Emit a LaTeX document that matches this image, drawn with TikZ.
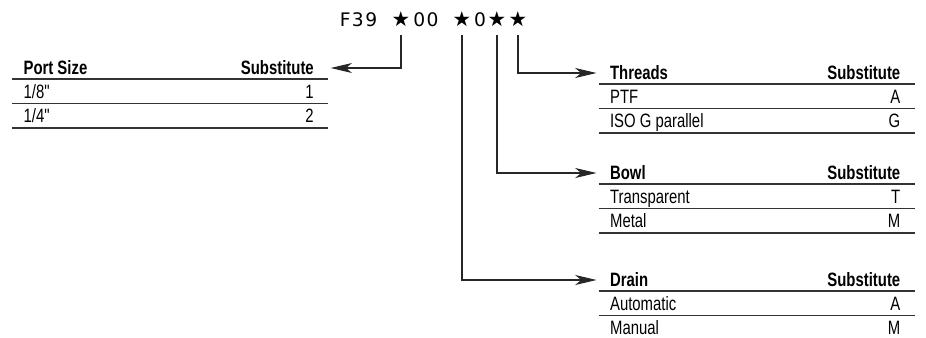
\documentclass[tikz,border=0pt]{standalone}
\usepackage{fontspec}
\usepackage{tikz}
\usetikzlibrary{positioning, arrows.meta}
\newfontfamily\tabfont[FakeStretch=0.77]{Liberation Sans}
\newfontfamily\codefont[LetterSpace=8]{DejaVu Sans}

\tikzset{
  tabrow/.style={minimum width=237pt, minimum height=18.4pt, inner sep=0pt, outer sep=0pt},
  headrow/.style={tabrow, minimum height=16.5pt},
  rule/.style={line width=1.15pt, black!80},
  cell/.style={font=\tabfont\fontsize{14.5}{16}\selectfont, inner sep=0pt},
  code/.style={font=\codefont\fontsize{14}{16}\selectfont, inner sep=0pt, anchor=base, text depth=0pt},
  star/.style={code, font=\codefont\fontsize{15.5}{16}\selectfont},
  link/.style={line width=0.8pt, black!85, shorten <=6pt,
    -{Stealth[length=16pt, width=7.5pt, inset=4.5pt]}}
}
% row: node name, left text, right text
\newcommand\tabline[3]{%
  \node[cell, anchor=base west] at ([xshift=8.5pt, yshift=-5.1pt]#1.west) {#2};
  \node[cell, anchor=base east] at ([xshift=-10.5pt, yshift=-5.1pt]#1.east) {#3};}
\newcommand\tabrule[1]{\draw[rule] (#1.south west) -- (#1.south east);}

\begin{document}
\begin{tikzpicture}[x=0.75pt, y=-0.75pt]
                \useasboundingbox (0,0) rectangle (926,337);
                % order code
                \node[code] (F39) at (358.5,26.5) {F39};
                \node[star] (s1) at (401,26.5) {★};
                \node[code] (z1) at (426,26.5) {00};
                \node[star] (s2) at (462,26.5) {★};
                \node[code] (z2) at (480,26.5) {0};
                \node[star] (s3) at (497,26.5) {★};
                \node[star] (s4) at (518,26.5) {★};
                % port size
                \node[headrow] (port) at (170,68) {};
                \node[tabrow, below=0pt of port] (port1) {};
                \node[tabrow, below=0pt of port1] (port2) {};
                \tabline{port}{\bfseries Port Size}{\bfseries Substitute}
                \tabline{port1}{1/8"}{1}
                \tabline{port2}{1/4"}{2}
                \tabrule{port} \tabrule{port1} \tabrule{port2}
                % threads
                \node[headrow] (thr) at (756.5,73) {};
                \node[tabrow, below=0pt of thr] (thr1) {};
                \node[tabrow, below=0pt of thr1] (thr2) {};
                \tabline{thr}{\bfseries Threads}{\bfseries Substitute}
                \tabline{thr1}{PTF}{A}
                \tabline{thr2}{ISO G parallel}{G}
                \tabrule{thr} \tabrule{thr1} \tabrule{thr2}
                % bowl
                \node[headrow] (bowl) at (756.5,173) {};
                \node[tabrow, below=0pt of bowl] (bowl1) {};
                \node[tabrow, below=0pt of bowl1] (bowl2) {};
                \tabline{bowl}{\bfseries Bowl}{\bfseries Substitute}
                \tabline{bowl1}{Transparent}{T}
                \tabline{bowl2}{Metal}{M}
                \tabrule{bowl} \tabrule{bowl1} \tabrule{bowl2}
                % drain
                \node[headrow] (drain) at (756.5,280) {};
                \node[tabrow, below=0pt of drain] (drain1) {};
                \node[tabrow, below=0pt of drain1] (drain2) {};
                \tabline{drain}{\bfseries Drain}{\bfseries Substitute}
                \tabline{drain1}{Automatic}{A}
                \tabline{drain2}{Manual}{M}
                \tabrule{drain} \tabrule{drain1}
                % connectors
                \draw[link, shorten >=2pt] (s1.south) |- (port.east);
                \draw[link, shorten >=1.5pt] (s4.south) |- (thr.west);
                \draw[link, shorten >=1.5pt] (s3.south) |- (bowl.west);
                \draw[link, shorten >=1.5pt] (s2.south) |- (drain.west);
            \end{tikzpicture}
\end{document}
